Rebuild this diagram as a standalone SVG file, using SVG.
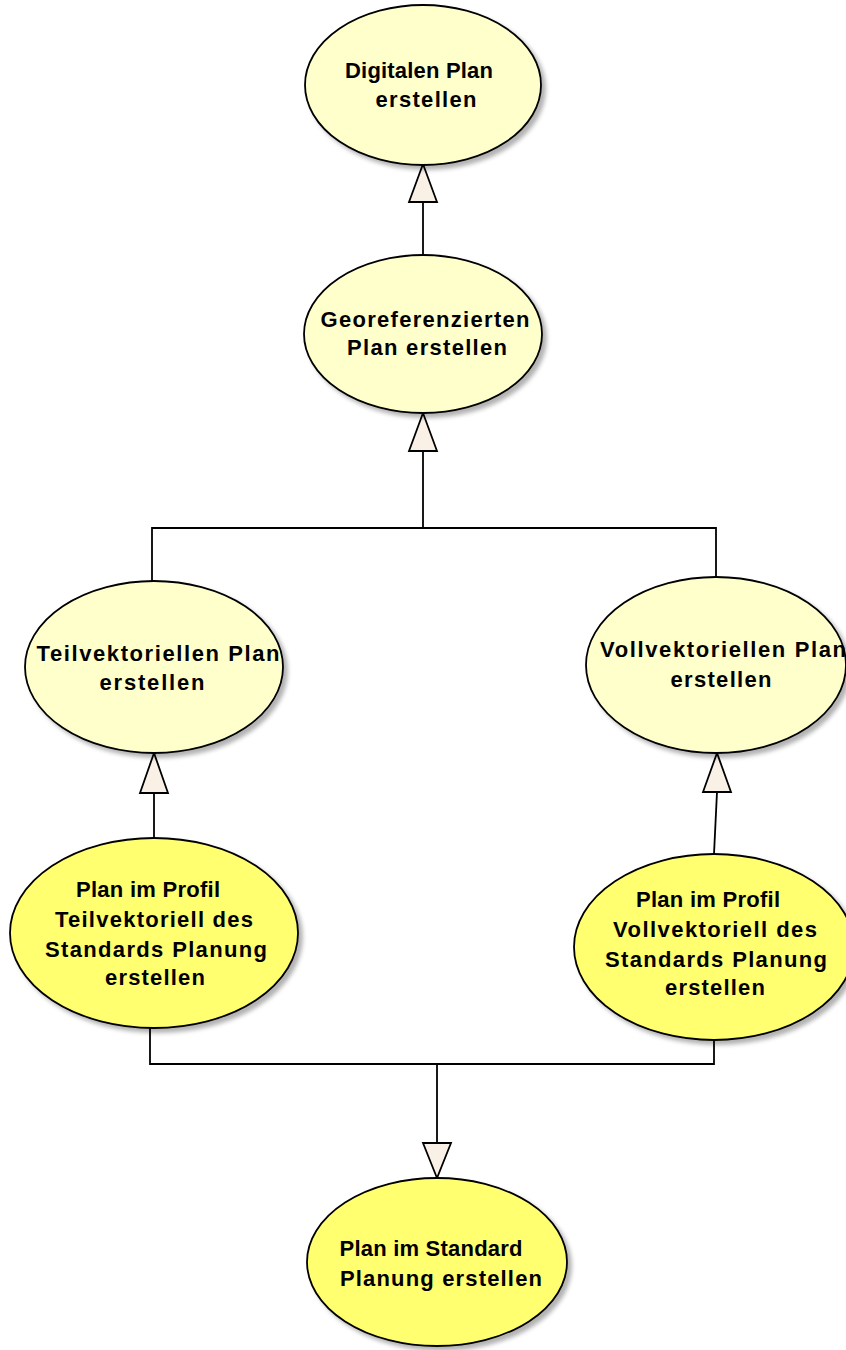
<svg xmlns="http://www.w3.org/2000/svg" width="846" height="1350" viewBox="0 0 846 1350">
<style>
.uc{stroke:#000;stroke-width:1.8}
.light{fill:#FFFFCC}
.bright{fill:#FFFF70}
.lbl{font-family:"Liberation Sans",Arial,sans-serif;font-weight:bold;font-size:22px;fill:#000;text-anchor:middle}
.ln{fill:none;stroke:#000;stroke-width:1.8}
.ah{fill:#F9F0E6;stroke:#000;stroke-width:1.8;stroke-linejoin:miter}
</style>
<defs>
<filter id="sh" x="-10%" y="-10%" width="130%" height="130%">
<feGaussianBlur in="SourceAlpha" stdDeviation="2"/>
<feOffset dx="4" dy="4" result="b"/>
<feFlood flood-color="#000" flood-opacity="0.3"/>
<feComposite in2="b" operator="in"/>
<feMerge><feMergeNode/><feMergeNode in="SourceGraphic"/></feMerge>
</filter>
</defs>
<rect width="846" height="1350" fill="#fff"/>
<g id="connectors">
<polyline class="ln" points="423,255 423,202"/>
<polygon class="ah" points="423,164 409,202 437,202"/>
<polyline class="ln" points="152,582 152,528 716,528 716,577"/>
<polyline class="ln" points="423,528 423,451"/>
<polygon class="ah" points="423,413 409,451 437,451"/>
<polyline class="ln" points="154,838 154,793"/>
<polygon class="ah" points="154,753 140,793 168,793"/>
<polyline class="ln" points="714,854 717,792"/>
<polygon class="ah" points="717,753 703,792 731,792"/>
<polyline class="ln" points="150,1028 150,1064 714,1064 714,1040"/>
<polyline class="ln" points="437,1064 437,1143"/>
<polygon class="ah" points="437,1178 423,1143 451,1143"/>
</g>
<g id="digital">
<ellipse class="uc light" filter="url(#sh)" cx="423" cy="85" rx="118" ry="80"/>
<text class="lbl" x="419" y="78" textLength="148" lengthAdjust="spacing">Digitalen Plan</text>
<text class="lbl" x="426" y="107" textLength="101" lengthAdjust="spacing">erstellen</text>
</g>
<g id="geo">
<ellipse class="uc light" filter="url(#sh)" cx="423" cy="334" rx="119" ry="79"/>
<text class="lbl" x="425" y="327" textLength="209" lengthAdjust="spacing">Georeferenzierten</text>
<text class="lbl" x="427" y="355" textLength="160" lengthAdjust="spacing">Plan erstellen</text>
</g>
<g id="teil">
<ellipse class="uc light" filter="url(#sh)" cx="154" cy="667" rx="129" ry="86"/>
<text class="lbl" x="158" y="661" textLength="243" lengthAdjust="spacing">Teilvektoriellen Plan</text>
<text class="lbl" x="152" y="690" textLength="105" lengthAdjust="spacing">erstellen</text>
</g>
<g id="voll">
<ellipse class="uc light" filter="url(#sh)" cx="716" cy="665" rx="130" ry="88"/>
<text class="lbl" x="723" y="657" textLength="246" lengthAdjust="spacing">Vollvektoriellen Plan</text>
<text class="lbl" x="721" y="687" textLength="101" lengthAdjust="spacing">erstellen</text>
</g>
<g id="profilTeil">
<ellipse class="uc bright" filter="url(#sh)" cx="154" cy="933" rx="144" ry="95"/>
<text class="lbl" x="148" y="897" textLength="144" lengthAdjust="spacing">Plan im Profil</text>
<text class="lbl" x="154" y="927" textLength="198" lengthAdjust="spacing">Teilvektoriell des</text>
<text class="lbl" x="156" y="957" textLength="222" lengthAdjust="spacing">Standards Planung</text>
<text class="lbl" x="155" y="985" textLength="100" lengthAdjust="spacing">erstellen</text>
</g>
<g id="profilVoll">
<ellipse class="uc bright" filter="url(#sh)" cx="714" cy="947" rx="140" ry="93"/>
<text class="lbl" x="708" y="907" textLength="144" lengthAdjust="spacing">Plan im Profil</text>
<text class="lbl" x="715" y="937" textLength="204" lengthAdjust="spacing">Vollvektoriell des</text>
<text class="lbl" x="716" y="967" textLength="222" lengthAdjust="spacing">Standards Planung</text>
<text class="lbl" x="715" y="995" textLength="100" lengthAdjust="spacing">erstellen</text>
</g>
<g id="standard">
<ellipse class="uc bright" filter="url(#sh)" cx="437" cy="1262" rx="130" ry="84"/>
<text class="lbl" x="431" y="1256" textLength="183" lengthAdjust="spacing">Plan im Standard</text>
<text class="lbl" x="441" y="1286" textLength="202" lengthAdjust="spacing">Planung erstellen</text>
</g>
</svg>
